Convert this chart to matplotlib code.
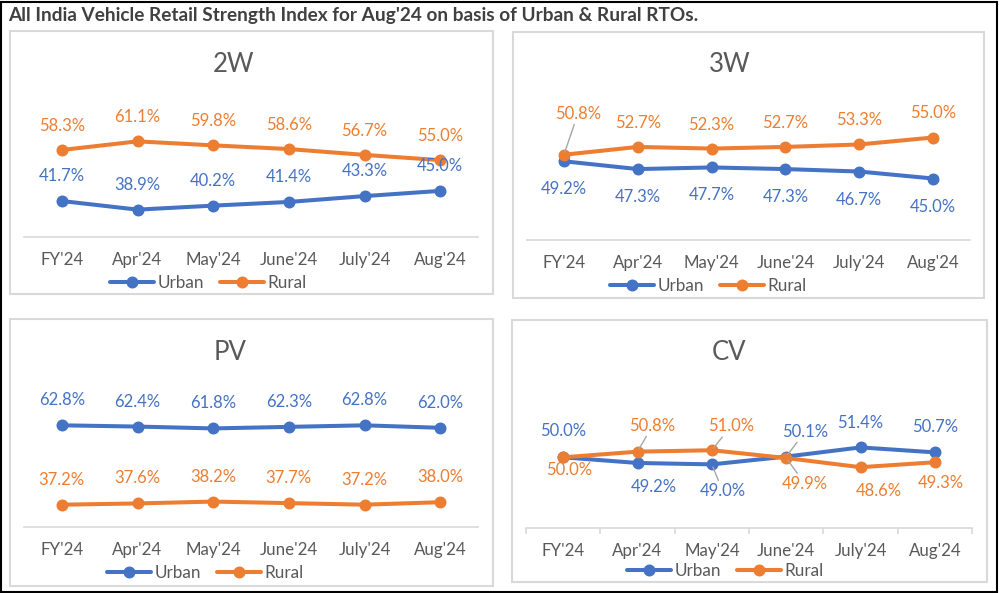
import matplotlib
matplotlib.use('Agg')
import matplotlib.pyplot as plt
from matplotlib.patches import Rectangle

plt.rcParams['font.family'] = ['Lato', 'DejaVu Sans']

# data
categories = ["FY'24", "Apr'24", "May'24", "June'24", "July'24", "Aug'24"]
series_names = ['Urban', 'Rural']

tw_urban = [41.7, 38.9, 40.2, 41.4, 43.3, 45.0]
tw_rural = [58.3, 61.1, 59.8, 58.6, 56.7, 55.0]
thw_urban = [49.2, 47.3, 47.7, 47.3, 46.7, 45.0]
thw_rural = [50.8, 52.7, 52.3, 52.7, 53.3, 55.0]
pv_urban = [62.8, 62.4, 61.8, 62.3, 62.8, 62.0]
pv_rural = [37.2, 37.6, 38.2, 37.7, 37.2, 38.0]
cv_urban = [50.0, 49.2, 49.0, 50.1, 51.4, 50.7]
cv_rural = [50.0, 50.8, 51.0, 49.9, 48.6, 49.3]

W, H = 1000, 593
BLUE = '#4472C4'
ORANGE = '#ED7D31'
GREY_TXT = '#595959'
LINE_GREY = '#D9D9D9'


def frac(x0, y0, x1, y1):
    # pixel box (top-left origin) -> figure fraction rect
    return [x0 / W, 1 - y1 / H, (x1 - x0) / W, (y1 - y0) / H]


fig = plt.figure(figsize=(W / 100, H / 100), dpi=100)
fig.patch.set_facecolor('white')

# outer black frame
fig.patches.append(Rectangle((1 / W, 1 / H), (W - 4) / W, (H - 3) / H, transform=fig.transFigure,
                             fill=False, edgecolor='black', lw=1.5))

fig.text(8 / W, 1 - 16 / H, "All India Vehicle Retail Strength Index for Aug'24 on basis of Urban & Rural RTOs.",
         fontsize=13.7, fontweight='bold', color='#404040', va='center', ha='left')


def panel(box, area, title, title_xy, ylim, urban, rural, urban_off, rural_off, legend_xy,
          leaders=(), ticks=False):
    # panel frame
    x0, y0, x1, y1 = box
    fig.patches.append(Rectangle((x0 / W, 1 - y1 / H), (x1 - x0) / W, (y1 - y0) / H,
                                 transform=fig.transFigure, fill=False, edgecolor=LINE_GREY, lw=1.5))
    ax = fig.add_axes(frac(*area))
    ax.set_facecolor('none')
    x = list(range(len(categories)))
    lu, = ax.plot(x, urban, color=BLUE, lw=2.9, marker='o', ms=7.6, label=series_names[0],
                  solid_capstyle='round', clip_on=False, zorder=3)
    lr, = ax.plot(x, rural, color=ORANGE, lw=2.9, marker='o', ms=7.6, label=series_names[1],
                  solid_capstyle='round', clip_on=False, zorder=3)
    ax.set_xlim(-0.5, len(categories) - 0.5)
    ax.set_ylim(*ylim)
    for s in ['top', 'left', 'right']:
        ax.spines[s].set_visible(False)
    ax.spines['bottom'].set_color(LINE_GREY)
    ax.spines['bottom'].set_linewidth(1.2)
    ax.set_yticks([])
    ax.set_xticks(x)
    ax.set_xticklabels(categories, fontsize=12.2, color=GREY_TXT)
    ax.tick_params(axis='x', length=0, pad=10.5)
    if ticks:
        ax.set_xticks([i - 0.5 for i in range(len(categories) + 1)], minor=True)
        ax.tick_params(axis='x', which='minor', length=4, color=LINE_GREY, width=1.2)

    for i, (vals, offs, col) in enumerate([(urban, urban_off, BLUE), (rural, rural_off, ORANGE)]):
        for j, v in enumerate(vals):
            dx, dy = offs[j]
            arrow = None
            if (i, j) in leaders:
                arrow = dict(arrowstyle='-', color='#A6A6A6', lw=1, shrinkA=0, shrinkB=2)
            ax.annotate(f'{v:.1f}%', (j, v), xytext=(dx, dy), textcoords='offset pixels',
                        ha='center', va='center', fontsize=12, color=col, arrowprops=arrow, zorder=4)

    fig.text(title_xy[0] / W, 1 - title_xy[1] / H, title, fontsize=18.5, color=GREY_TXT,
             ha='center', va='center')
    ax.legend(handles=[lu, lr], loc='center left', bbox_to_anchor=(legend_xy[0] / W, 1 - legend_xy[1] / H),
              bbox_transform=fig.transFigure, ncol=2, frameon=False, fontsize=12.3, labelcolor=GREY_TXT,
              handlelength=2.6, handletextpad=0.2, columnspacing=0.9, borderpad=0, borderaxespad=0)
    return ax


up = [(0, 25)] * 6
panel((10, 31, 493, 294), (24, 114, 478, 237), '2W', (233, 65), (30, 70),
      tw_urban, tw_rural, up, [(0, 24)] * 6, (110, 283))

panel((513, 32, 984, 298), (527, 117, 970, 240), '3W', (730, 65), (30, 60),
      thw_urban, thw_rural, [(0, -28)] * 6, [(14, 41)] + [(0, 24)] * 5, (610, 286),
      leaders=[(1, 0)])

panel((10, 319, 493, 586), (24, 403, 478, 527), 'PV', (230, 352), (30, 70),
      pv_urban, pv_rural, up, up, (107, 573))

cv_u_off = [(0, 26), (16, -24), (11, -27), (19, 25), (0, 24), (0, 25)]
cv_r_off = [(6, -13), (15, 26), (19, 24), (19, -26), (18, -24), (6, -21)]
panel((512, 320, 987, 582), (526, 405, 972, 528), 'CV', (729, 353), (40, 57.4),
      cv_urban, cv_rural, cv_u_off, cv_r_off, (627, 571),
      leaders=[(0, 2), (0, 3), (1, 1), (1, 2), (1, 3)], ticks=True)

fig.savefig('out.png', dpi=100)
